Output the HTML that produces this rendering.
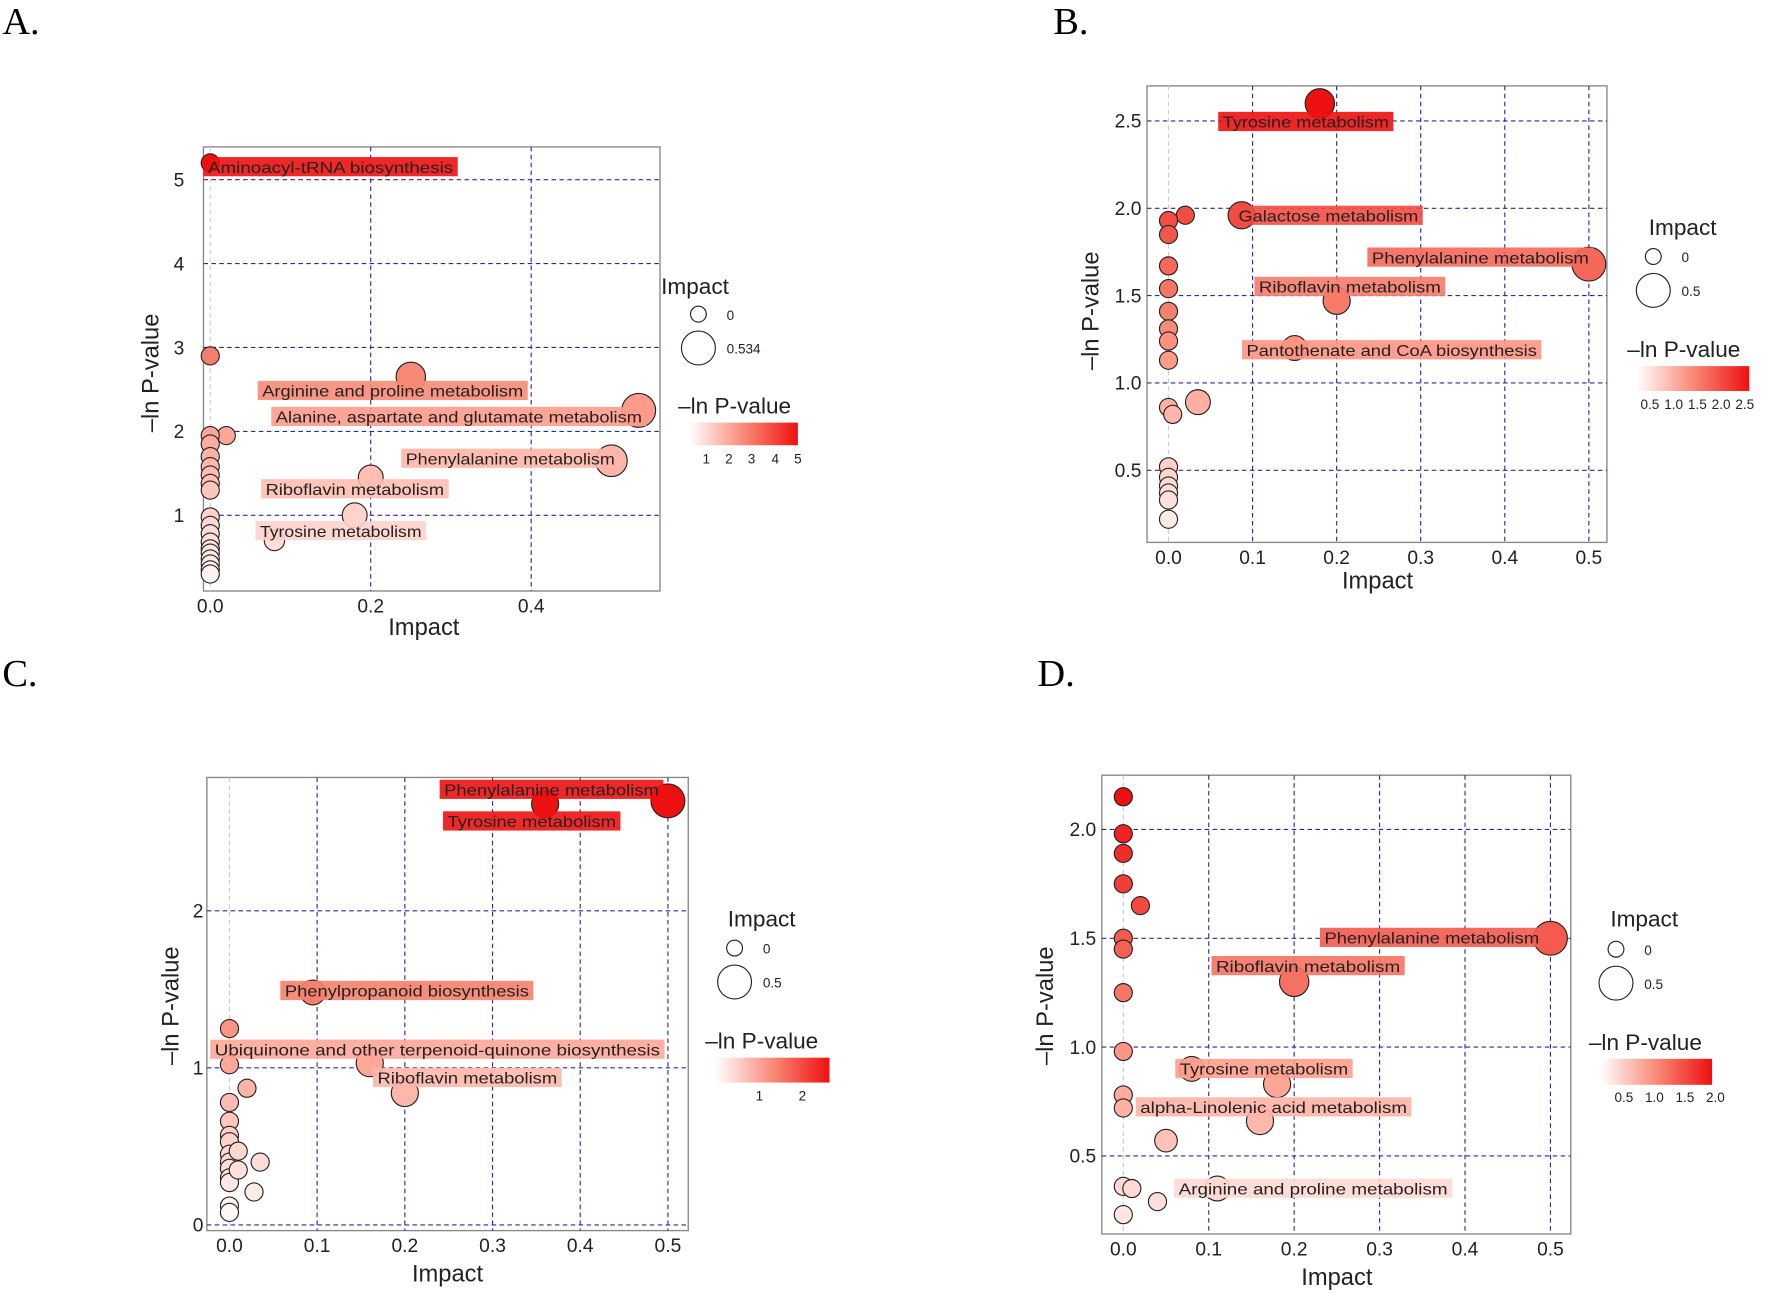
<!DOCTYPE html>
<html><head><meta charset="utf-8"><style>
html,body{margin:0;padding:0;background:#fff}
svg{display:block}
text{font-family:"Liberation Sans",sans-serif}
</style></head><body>
<svg id="s" width="1772" height="1295" viewBox="0 0 1568 1146" xmlns="http://www.w3.org/2000/svg">
<defs>
<linearGradient id="g" x1="0" x2="1" y1="0" y2="0">
<stop offset="0" stop-color="#ffffff"/><stop offset="0.5" stop-color="#f88a78"/><stop offset="1" stop-color="#ee1010"/>
</linearGradient>
</defs>
<text x="2" y="30" font-family="Liberation Serif" font-size="34" style="font-family:'Liberation Serif',serif">A.</text>
<text x="932" y="30" font-size="34" style="font-family:'Liberation Serif',serif">B.</text>
<text x="2" y="607" font-size="34" style="font-family:'Liberation Serif',serif">C.</text>
<text x="918" y="607" font-size="34" style="font-family:'Liberation Serif',serif">D.</text>
</svg>
<script>
const S=document.getElementById('s');const NS='http://www.w3.org/2000/svg';
function el(t,a,txt){const e=document.createElementNS(NS,t);for(const k in a)e.setAttribute(k,a[k]);if(txt!==undefined)e.textContent=txt;S.appendChild(e);return e;}
function col(t){t=Math.max(0,Math.min(1,t));let r,g,b;
 if(t<0.5){const u=t/0.5;r=255;g=255-(255-140)*u;b=255-(255-120)*u;}else{const u=(t-0.5)/0.5;r=248-(248-238)*u;g=140-124*u;b=120-104*u;}
 return `rgb(${r|0},${g|0},${b|0})`;}
const P=[
{box:[180,130,584,523],ax:186,bx:710,ay:530.25,by:-74.25,xt:[0,0.2,0.4],xf:1,yt:[1,2,3,4,5],yf:0,ymax:5.2,tlx:163,
 xl:[375,562],yl:[140,330],leg:{ix:601,iy:260,c1:[618,278],c2:[618,308],lab:["0","0.534"],lx:600,ly:366,bar:[610,374,96,20],bt:[[625,"1"],[645,"2"],[665,"3"],[686,"4"],[706,"5"]],bty:410},
 pts:[[0,5.2],[0,2.9],[0.02,1.95],[0,1.95],[0,1.85],[0,1.7],[0,1.58],[0,1.48],[0,1.38],[0,1.3],[0,0.98],[0,0.88],[0,0.78],[0,0.68],[0,0.6],[0,0.55],[0,0.48],[0,0.42],[0,0.35],[0,0.3],[0.25,2.65,13],[0.534,2.25,15],[0.5,1.65,14],[0.2,1.45,11],[0.18,1.0,11],[0.08,0.7,9]],
 labs:[["Aminoacyl-tRNA biosynthesis",180,405,139,5.2],["Arginine and proline metabolism",228,467,337,2.65],["Alanine, aspartate and glutamate metabolism",240,572,360,2.25],["Phenylalanine metabolism",355,548,397,1.65],["Riboflavin metabolism",231,397,424,1.45],["Tyrosine metabolism",226,377,461,1.0]]},
{box:[1015,76,1422,480],ax:1034,bx:744,ay:493.5,by:-154.6,xt:[0,0.1,0.2,0.3,0.4,0.5],xf:1,yt:[0.5,1,1.5,2,2.5],yf:1,ymax:2.6,tlx:1010,
 xl:[1219,521],yl:[972,275],leg:{ix:1475,iy:208,c1:[1463,227],c2:[1463,257],lab:["0","0.5"],lx:1440,ly:316,bar:[1448,324,100,22],bt:[[1460,"0.5"],[1481,"1.0"],[1502,"1.5"],[1523,"2.0"],[1544,"2.5"]],bty:362},
 pts:[[0.18,2.6,13],[0.02,1.96],[0,1.93],[0.087,1.96,12],[0,1.85],[0,1.67],[0,1.54],[0,1.41],[0,1.31],[0,1.24],[0,1.13],[0,0.86],[0.005,0.82],[0.035,0.89,11],[0,0.52],[0,0.46],[0,0.41],[0,0.37],[0,0.33],[0,0.22],[0.5,1.68,15],[0.2,1.47,12],[0.15,1.2,11]],
 labs:[["Tyrosine metabolism",1078,1233,99,2.6],["Galactose metabolism",1092,1259,182,1.96],["Phenylalanine metabolism",1210,1410,219,1.68],["Riboflavin metabolism",1110,1279,245,1.47],["Pantothenate and CoA biosynthesis",1099,1364,301,1.2]]},
{box:[183,688,609,1089],ax:203,bx:776,ay:1084,by:-139,xt:[0,0.1,0.2,0.3,0.4,0.5],xf:1,yt:[0,1,2],yf:0,ymax:2.7,tlx:180,
 xl:[396,1134],yl:[158,890],leg:{ix:660,iy:820,c1:[650,839],c2:[650,869],lab:["0","0.5"],lx:624,ly:928,bar:[633,936,101,22],bt:[[672,"1"],[710,"2"]],bty:974},
 pts:[[0.36,2.68,12],[0.5,2.7,15],[0.095,1.48,11],[0,1.25],[0.16,1.03,12],[0,1.02],[0.2,0.84,12],[0.02,0.87],[0,0.78],[0,0.66],[0,0.57],[0,0.53],[0,0.45],[0,0.4],[0,0.36],[0,0.3],[0,0.27],[0,0.12],[0,0.08],[0.01,0.47],[0.035,0.4],[0.028,0.21],[0.01,0.35]],
 labs:[["Phenylalanine metabolism",389,587,690,2.7],["Tyrosine metabolism",392,549,718,2.68],["Phenylpropanoid biosynthesis",248,472,868,1.48],["Ubiquinone and other terpenoid-quinone biosynthesis",186,588,920,1.03],["Riboflavin metabolism",330,497,945,0.84]]},
{box:[975,686,1390,1092],ax:994,bx:756,ay:1119.2,by:-192.6,xt:[0,0.1,0.2,0.3,0.4,0.5],xf:1,yt:[0.5,1,1.5,2],yf:1,ymax:2.15,tlx:970,
 xl:[1183,1137],yl:[932,890],leg:{ix:1441,iy:820,c1:[1430,840],c2:[1430,870],lab:["0","0.5"],lx:1406,ly:929,bar:[1416,937,99,23],bt:[[1437,"0.5"],[1464,"1.0"],[1491,"1.5"],[1518,"2.0"]],bty:975},
 pts:[[0,2.15],[0,1.98],[0,1.89],[0,1.75],[0.02,1.65],[0,1.5],[0,1.45],[0,1.25],[0,0.98],[0,0.78],[0,0.72],[0.5,1.5,15],[0.2,1.3,13],[0.08,0.9,11],[0.18,0.83,12],[0.16,0.66,12],[0.05,0.57,10],[0,0.36],[0.01,0.35],[0.04,0.29],[0.11,0.35,11],[0,0.23]],
 labs:[["Phenylalanine metabolism",1168,1366,821,1.5],["Riboflavin metabolism",1072,1243,846,1.3],["Tyrosine metabolism",1040,1197,937,0.9],["alpha-Linolenic acid metabolism",1005,1249,971,0.7],["Arginine and proline metabolism",1039,1285,1043,0.35]]}
];
for(const p of P){
 const [l,t,r,b]=p.box;
 el('rect',{x:l,y:t,width:r-l,height:b-t,fill:'#fff',stroke:'#888','stroke-width':1.2});
 // minor grid
 for(const x of p.xt){const X=p.ax+p.bx*x;el('line',{x1:X,x2:X,y1:t,y2:b,stroke:x===0?'#c8c8e0':'#2a2aa0','stroke-width':1,'stroke-dasharray':'4,3'});}
 for(const y of p.yt){const Y=p.ay+p.by*y;el('line',{x1:l,x2:r,y1:Y,y2:Y,stroke:'#2a2aa0','stroke-width':1,'stroke-dasharray':'4,3'});
  el('text',{x:p.tlx,y:Y+6,'font-size':17,'text-anchor':'end',fill:'#222'},p.yf?y.toFixed(1):String(y));}
 for(const x of p.xt){const X=p.ax+p.bx*x;el('text',{x:X,y:b+19,'font-size':17,'text-anchor':'middle',fill:'#222'},x.toFixed(1));}
 el('text',{x:p.xl[0],y:p.xl[1],'font-size':21,'text-anchor':'middle',fill:'#222'},'Impact');
 el('text',{x:p.yl[0],y:p.yl[1],'font-size':21,'text-anchor':'middle',fill:'#222',transform:`rotate(-90 ${p.yl[0]} ${p.yl[1]})`},'\u2013ln P-value');
 // points
 for(const q of p.pts){const rr=q[2]||8;el('circle',{cx:p.ax+p.bx*q[0],cy:p.ay+p.by*q[1],r:rr,fill:col(q[1]/p.ymax),stroke:'#222','stroke-width':1});}
 for(const L of p.labs){const [tx,x1,x2,y1,v]=L;
  el('rect',{x:x1,y:y1,width:x2-x1,height:17,fill:col(v/p.ymax),'fill-opacity':0.9});
  el('text',{x:x1+4,y:y1+14,'font-size':14,fill:'#222',textLength:x2-x1-8,lengthAdjust:'spacingAndGlyphs'},tx);}
 const g=p.leg;
 el('text',{x:g.ix-16,y:g.iy,'font-size':20,fill:'#222'},'Impact');
 el('circle',{cx:g.c1[0],cy:g.c1[1],r:7,fill:'#fff',stroke:'#222'});
 el('circle',{cx:g.c2[0],cy:g.c2[1],r:15,fill:'#fff',stroke:'#222'});
 el('text',{x:g.c1[0]+25,y:g.c1[1]+5,'font-size':12,fill:'#222'},g.lab[0]);
 el('text',{x:g.c2[0]+25,y:g.c2[1]+5,'font-size':12,fill:'#222'},g.lab[1]);
 el('text',{x:g.lx,y:g.ly,'font-size':20,fill:'#222'},'\u2013ln P-value');
 el('rect',{x:g.bar[0],y:g.bar[1],width:g.bar[2],height:g.bar[3],fill:'url(#g)'});
 for(const [x,s] of g.bt)el('text',{x:x,y:g.bty,'font-size':12,'text-anchor':'middle',fill:'#222'},s);
}
</script>
</body></html>
